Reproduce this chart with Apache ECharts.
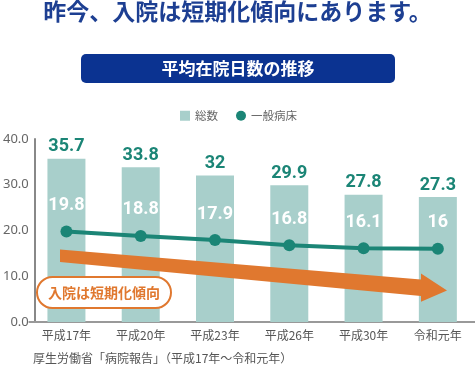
<!DOCTYPE html>
<html><head><meta charset="utf-8">
<script src="https://cdn.jsdelivr.net/npm/echarts@6/dist/echarts.min.js"></script>
<style>html,body{margin:0;padding:0;background:#fff}#c{width:475px;height:370px}</style>
</head><body><div id="c"></div>
<script>
const categories = ['平成17年','平成20年','平成23年','平成26年','平成30年','令和元年'];
const totalValues = [35.7, 33.8, 32, 29.9, 27.8, 27.3];
const generalValues = [19.8, 18.8, 17.9, 16.8, 16.1, 16];
const seriesNames = ['総数','一般病床'];
const titleText = '昨今、入院は短期化傾向にあります。';
const bannerText = '平均在院日数の推移';
const calloutText = '入院は短期化傾向';
const sourceText = '厚生労働省「病院報告」（平成17年～令和元年）';

const JP = '"Noto Sans CJK JP","Noto Sans",sans-serif';
const chart = echarts.init(document.getElementById('c'), null, {renderer:'canvas'});
chart.setOption({
  backgroundColor:'#fff',
  animation:false,
  textStyle:{fontFamily:JP},
  grid:{left:27.5, right:-2.5, top:139, bottom:48, containLabel:false},
  legend:{
    left:175, top:105, itemWidth:10, itemHeight:10, itemGap:18,
    textStyle:{fontSize:11.5, color:'#666', fontFamily:JP},
    data:[{name:seriesNames[0], icon:'rect'},{name:seriesNames[1], icon:'circle'}]
  },
  xAxis:{
    type:'category', data:categories,
    axisLine:{lineStyle:{color:'#999', width:2}},
    axisTick:{show:false},
    axisLabel:{color:'#555', fontSize:12, margin:7, fontFamily:JP}
  },
  yAxis:{
    type:'value', min:0, max:40, interval:10, offset:-5.5,
    axisLine:{show:true, lineStyle:{color:'#888', width:2}},
    axisTick:{show:false},
    splitLine:{show:false},
    axisLabel:{color:'#666', fontSize:13, margin:6, fontFamily:'"Noto Sans",sans-serif',
      formatter:v=>v.toFixed(1)}
  },
  series:[
    {name:seriesNames[0], type:'bar', data:totalValues, barWidth:38,
     itemStyle:{color:'#a8cfcb'}, z:2,
     label:{show:true, position:'top', distance:3, color:'#1b8576', fontSize:18,
       fontWeight:'bold', fontFamily:'Roboto,sans-serif'}},
    {name:seriesNames[1], type:'line', data:generalValues, z:4,
     lineStyle:{color:'#1b8576', width:4}, itemStyle:{color:'#1b8576'},
     symbol:'circle', symbolSize:12, showSymbol:true,
     label:{show:true, position:'top', distance:11, color:'#fff', fontSize:18,
       fontWeight:'bold', fontFamily:'Roboto,sans-serif'}}
  ],
  graphic:[
    {type:'text', left:'center', top:0, z:10,
     style:{text:titleText, fill:'#1d3f92', font:'bold 23px '+JP}},
    {type:'rect', shape:{x:81, y:54, width:314, height:29, r:5}, z:10,
     style:{fill:'#0b3391'}},
    {type:'text', x:238, y:68.5, z:11,
     style:{text:bannerText, fill:'#fff', font:'bold 17px '+JP, align:'center', verticalAlign:'middle'}},
    {type:'polygon', z:6,
     shape:{points:[[60,249.5],[421,279.5],[421,273.5],[447,290.5],[421,301.7],[421,296],[60,262]]},
     style:{fill:'#e0782f'}},
    {type:'rect', z:7, shape:{x:37, y:277, width:134, height:31, r:15.5},
     style:{fill:'#fff', stroke:'#e0782f', lineWidth:2}},
    {type:'text', x:104, y:292.5, z:8,
     style:{text:calloutText, fill:'#e0782f', font:'bold 14px '+JP, align:'center', verticalAlign:'middle'}},
    {type:'text', x:33, y:358, z:10,
     style:{text:sourceText, fill:'#555', font:'12px '+JP, verticalAlign:'middle'}}
  ]
});
</script></body></html>
